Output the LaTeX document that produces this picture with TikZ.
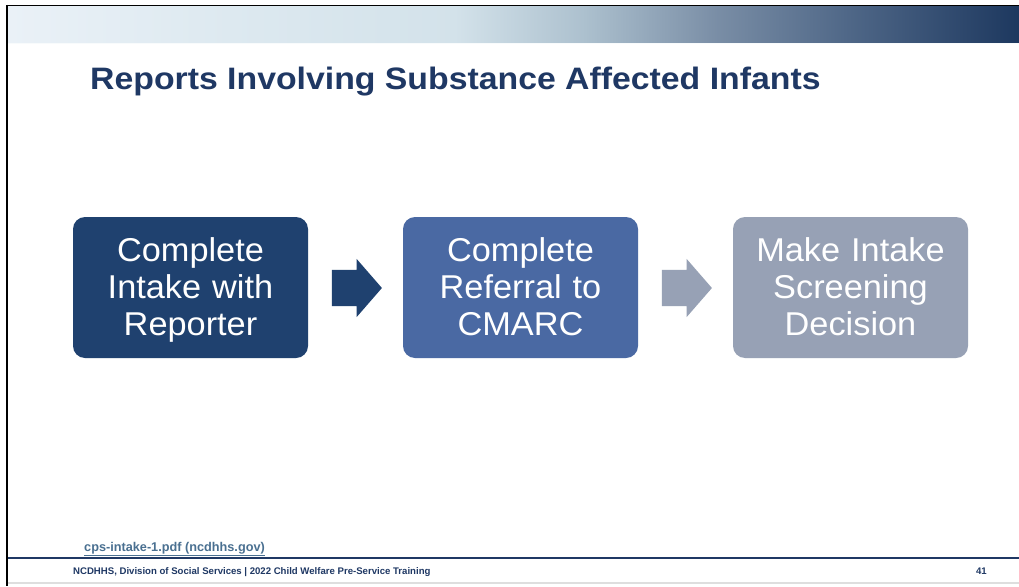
\documentclass[tikz,border=0pt]{standalone}
\usepackage{fontspec}
\setmainfont{Liberation Sans}
\newfontfamily\titlefont[FakeStretch=1.09]{Liberation Sans}
\newfontfamily\boxfont[FakeStretch=1.04]{Liberation Sans}
\usetikzlibrary{shapes.arrows}
\definecolor{navy}{RGB}{31,56,100}
\definecolor{boxA}{RGB}{31,65,111}
\definecolor{boxB}{RGB}{74,105,163}
\definecolor{boxC}{RGB}{151,161,181}
\definecolor{linkc}{RGB}{74,112,145}
\definecolor{g0}{RGB}{234,241,247}
\definecolor{g1}{RGB}{221,233,240}
\definecolor{g2}{RGB}{211,226,234}
\definecolor{g3}{RGB}{172,192,206}
\definecolor{g4}{RGB}{122,142,166}
\definecolor{g5}{RGB}{80,104,136}
\definecolor{g6}{RGB}{29,56,95}
\tikzset{
  stepbox/.style={rounded corners=12pt, minimum width=235pt, minimum height=141pt,
    text width=230pt, align=center, text=white, inner sep=0pt,
    font=\boxfont\fontsize{33}{37}\selectfont,
    execute at begin node={\rule{0pt}{30pt}},
    execute at end node={\rule[-9pt]{0pt}{9pt}}},
  blockarrow/.style={single arrow, draw=none, minimum height=50pt, inner xsep=0pt,
    inner ysep=18pt, single arrow head extend=11pt, single arrow tip angle=98,
    single arrow head indent=0pt},
}
\begin{document}
\begin{tikzpicture}[x=1pt,y=-1pt]
\useasboundingbox (0,0) rectangle (1019,586);
\fill[white] (0,0) rectangle (1019,586);
% header gradient
\shade[left color=g0,right color=g1] (8,6) rectangle (230.5,43);
\shade[left color=g1,right color=g2] (230,6) rectangle (455.5,43);
\shade[left color=g2,right color=g3] (455,6) rectangle (585.5,43);
\shade[left color=g3,right color=g4] (585,6) rectangle (715.5,43);
\shade[left color=g4,right color=g5] (715,6) rectangle (845.5,43);
\shade[left color=g5,right color=g6] (845,6) rectangle (1019,43);
\fill[white!85!g2] (8,43) rectangle (1019,44.5);
% frame lines
\draw[black,line width=1.5pt] (7,5.5) -- (1019,5.5);
\draw[black,line width=2pt] (7,5) -- (7,586);
\draw[navy,line width=2pt] (8,557.5) -- (1019,557.5);
\draw[black!13,line width=2pt] (8,583) -- (1019,583);
% title
\node[anchor=base west, inner sep=0pt, text=navy, font=\titlefont\fontsize{31}{31}\selectfont\bfseries] (title) at (90,89.5) {Reports Involving Substance Affected Infants};
% boxes
\node[stepbox, fill=boxA] (b1) at (190.5,287.5) {Complete\\Intake with\\Reporter};
\node[stepbox, fill=boxB] (b2) at (520.5,287.5) {Complete\\Referral to\\CMARC};
\node[stepbox, fill=boxC] (b3) at (850.5,287.5) {Make Intake\\Screening\\Decision};
% arrows
\node[blockarrow, fill=boxA] (a1) at (349,288) {};
\node[blockarrow, fill=boxC] (a2) at (679,288) {};
% footer
\node[anchor=base west, inner sep=0pt, text=linkc, font=\fontsize{12.7}{12.7}\selectfont\bfseries] (link) at (84,551.5) {\underline{cps-intake-1.pdf (ncdhhs.gov)}};
\node[anchor=base west, inner sep=0pt, text=navy, font=\fontsize{9.6}{9.6}\selectfont\bfseries] (foot) at (73,574.5) {NCDHHS, Division of Social Services | 2022 Child Welfare Pre-Service Training};
\node[anchor=base east, inner sep=0pt, text=navy, font=\fontsize{9.6}{9.6}\selectfont\bfseries] (page) at (987,574.5) {41};
\end{tikzpicture}
\end{document}
